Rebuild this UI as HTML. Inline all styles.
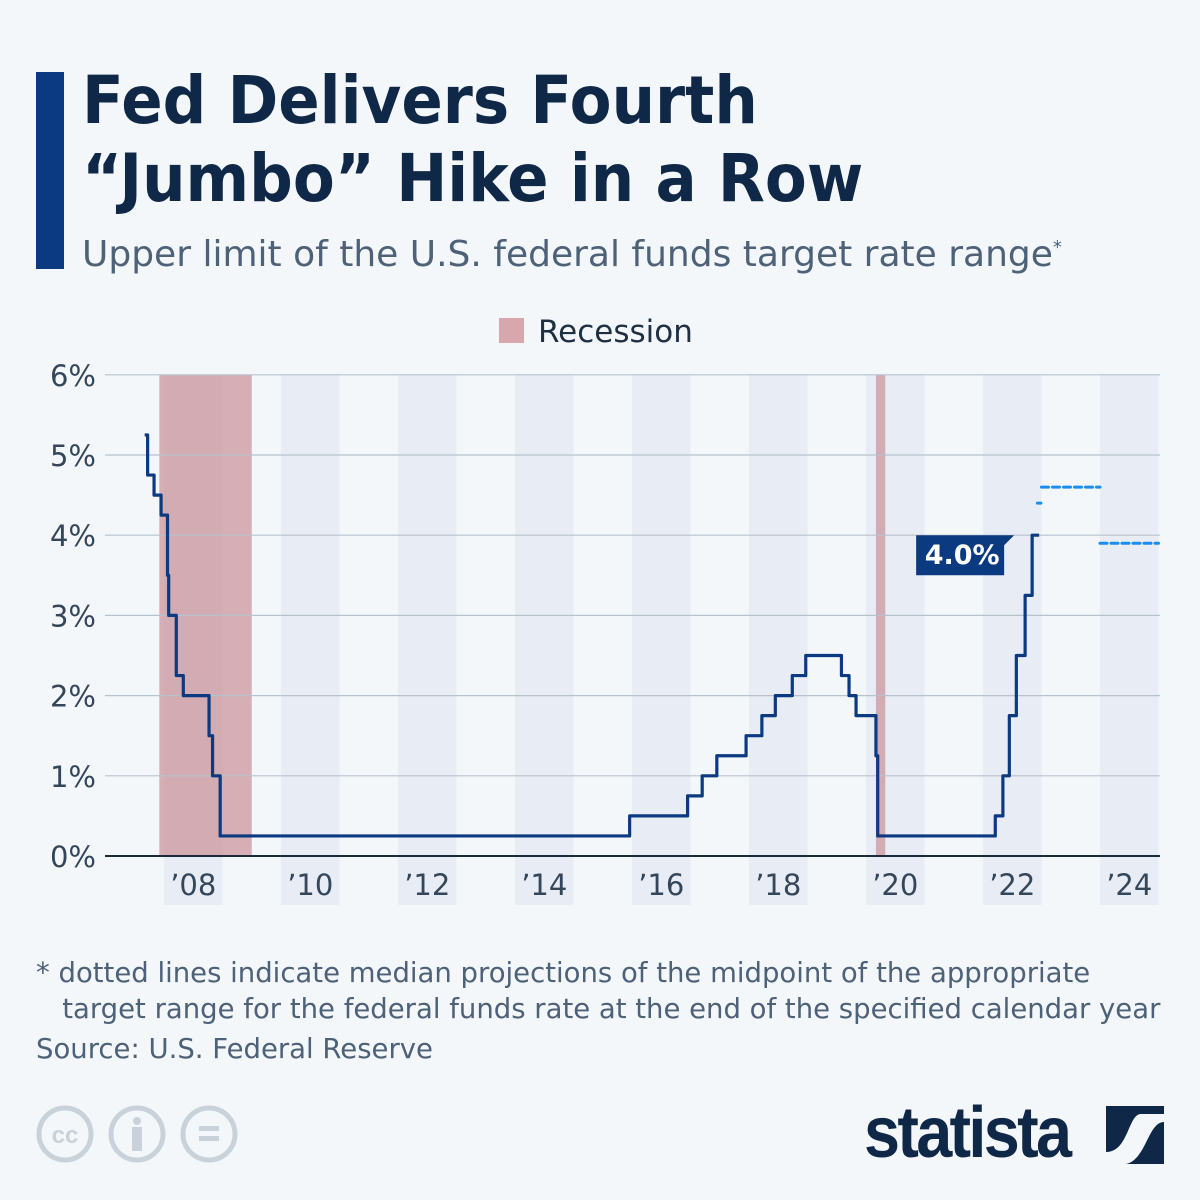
<!DOCTYPE html>
<html><head><meta charset="utf-8"><style>
body{margin:0;background:#f4f7fa;font-family:"Liberation Sans","DejaVu Sans",sans-serif;}
#root{position:relative;width:1200px;height:1200px;background:#f4f7fa;overflow:hidden}
.t{position:absolute;margin:0}
</style></head><body>
<div id="root">
<div class="t" style="left:36px;top:72px;width:28px;height:197px;background:#0c3a80"></div>
<h1 class="t" style="left:82px;top:62px;font-size:66px;line-height:78px;font-weight:bold;color:#0f2847;font-family:'DejaVu Sans',sans-serif;transform:scaleX(0.925);transform-origin:left;white-space:nowrap">Fed Delivers Fourth<br>“Jumbo” Hike in a Row</h1>
<div class="t" style="left:82px;top:234px;font-size:36px;color:#4d6178;font-family:'DejaVu Sans',sans-serif;white-space:nowrap">Upper limit of the U.S. federal funds target rate range<sup style="font-size:18px">*</sup></div>
<svg id="chart" width="1200" height="1200" style="position:absolute;left:0;top:0" font-family="'DejaVu Sans',sans-serif"></svg>
<div class="t" style="left:36px;top:955px;font-size:27.5px;line-height:36px;color:#4d6178;font-family:'DejaVu Sans',sans-serif;white-space:nowrap">* dotted lines indicate median projections of the midpoint of the appropriate<br>&nbsp;&nbsp;&nbsp;target range for the federal funds rate at the end of the specified calendar year</div>
<div class="t" style="left:36px;top:1033px;font-size:27.5px;color:#4d6178;font-family:'DejaVu Sans',sans-serif">Source: U.S. Federal Reserve</div>
<svg class="t" style="left:36px;top:1105px" width="210" height="60">
<g fill="none" stroke="#c9d2da" stroke-width="5"><circle cx="29" cy="29" r="26"/><circle cx="101" cy="29" r="26"/><circle cx="173" cy="29" r="26"/></g>
<text x="29" y="38" font-size="24" text-anchor="middle" fill="#c9d2da" font-weight="bold">cc</text>
<circle cx="101" cy="16" r="4" fill="#c9d2da"/><rect x="96" y="22" width="10" height="24" fill="#c9d2da"/>
<rect x="163" y="21" width="20" height="5" fill="#c9d2da"/><rect x="163" y="31" width="20" height="5" fill="#c9d2da"/>
</svg>
<div class="t" style="left:864px;top:1092px;font-size:72px;font-weight:bold;color:#0f2847;letter-spacing:-3px;transform:scaleX(0.9);transform-origin:left">statista</div>
<svg class="t" style="left:1106px;top:1106px" width="58" height="58"><rect width="58" height="58" fill="#0f2847"/><path d="M0 46 C22 46 22 10 34 8 L58 8 L58 16 C42 16 40 54 20 58 L0 58Z" fill="#f4f7fa"/></svg>
</div>
<script>
const yearTicks=[2008,2010,2012,2014,2016,2018,2020,2022,2024];
const yTicks=[0,1,2,3,4,5,6];
const recessions=[[2007.92,2009.5],[2020.17,2020.33]];
const stepDates=[2007.67,2007.72,2007.83,2007.95,2008.06,2008.08,2008.21,2008.33,2008.77,2008.83,2008.96,2015.96,2016.95,2017.2,2017.45,2017.95,2018.22,2018.45,2018.74,2018.97,2019.58,2019.71,2019.83,2020.17,2020.2,2022.21,2022.34,2022.45,2022.57,2022.72,2022.84];
const stepValues=[5.25,4.75,4.5,4.25,3.5,3.0,2.25,2.0,1.5,1.0,0.25,0.5,0.75,1.0,1.25,1.5,1.75,2.0,2.25,2.5,2.25,2.0,1.75,1.25,0.25,0.5,1.0,1.75,2.5,3.25,4.0];
const seriesEnd=2022.96;
const projStart=[2022.93,2023.0,2024.0];
const projEnd=[2022.99,2024.0,2025.0];
const projValues=[4.4,4.6,3.9];
const lastLabel="4.0%";

const X0=105.5,YW=58.5,Y0=856,YU=80.2;
const x=t=>X0+(t-2007)*YW;
const y=v=>Y0-v*YU;
const svg=document.getElementById('chart');
const NS='http://www.w3.org/2000/svg';
function mk(tag,a){const e=document.createElementNS(NS,tag);for(const k in a)e.setAttribute(k,a[k]);svg.appendChild(e);return e;}

yearTicks.forEach(yr=>{const r=mk('rect',{x:x(yr),y:375,width:YW,height:530,fill:'#e8edf5'});

});
recessions.forEach((r,i)=>{const e=mk('rect',{x:x(r[0]),y:375,width:x(r[1])-x(r[0]),height:481,fill:'#c98f97',opacity:0.7});

});
yTicks.forEach(v=>{const l=mk('line',{x1:105,x2:1160,y1:y(v),y2:y(v),stroke:v===0?'#1b2a3a':'#b8c2cc','stroke-width':v===0?2:1.2});


const t=mk('text',{x:96,y:y(v)+11,'font-size':29,'text-anchor':'end',fill:'#34465a'});t.textContent=v+'%';

});
yearTicks.forEach(yr=>{const t=mk('text',{x:x(yr)+YW/2,y:895,'font-size':29,'text-anchor':'middle',fill:'#34465a'});t.textContent='’'+String(yr).slice(2);

});
let d='M'+x(stepDates[0])+' '+y(stepValues[0]);
stepDates.forEach((t,i)=>{if(i)d+=' H'+x(t)+' V'+y(stepValues[i]);});
d+=' H'+x(seriesEnd);
const p=mk('path',{d:d,fill:'none',stroke:'#0c3a80','stroke-width':3.2,'stroke-linejoin':'round'});


projValues.forEach((v,i)=>{const l=mk('line',{x1:x(projStart[i]),x2:x(projEnd[i]),y1:y(v),y2:y(v),stroke:'#1a8cf0','stroke-width':3,'stroke-dasharray':'7 4','stroke-linecap':'round'});

});
const lv=stepValues[stepValues.length-1];
const lx=x(stepDates[stepDates.length-1])-22, ly=y(lv);
const box=mk('path',{d:`M${lx-94} ${ly} H${lx+4} L${lx-6} ${ly+10} V${ly+40} H${lx-94} Z`,fill:'#0c3a80'});


const lt=mk('text',{x:lx-48,y:ly+29,'font-size':27,'text-anchor':'middle',fill:'#fff','font-weight':'bold'});lt.textContent=lastLabel;


const lr=mk('rect',{x:499,y:318,width:25,height:25,fill:'#d8a7ad'});


const lg=mk('text',{x:538,y:342,'font-size':31,fill:'#1f3042'});lg.textContent='Recession';


</script>
</body></html>
